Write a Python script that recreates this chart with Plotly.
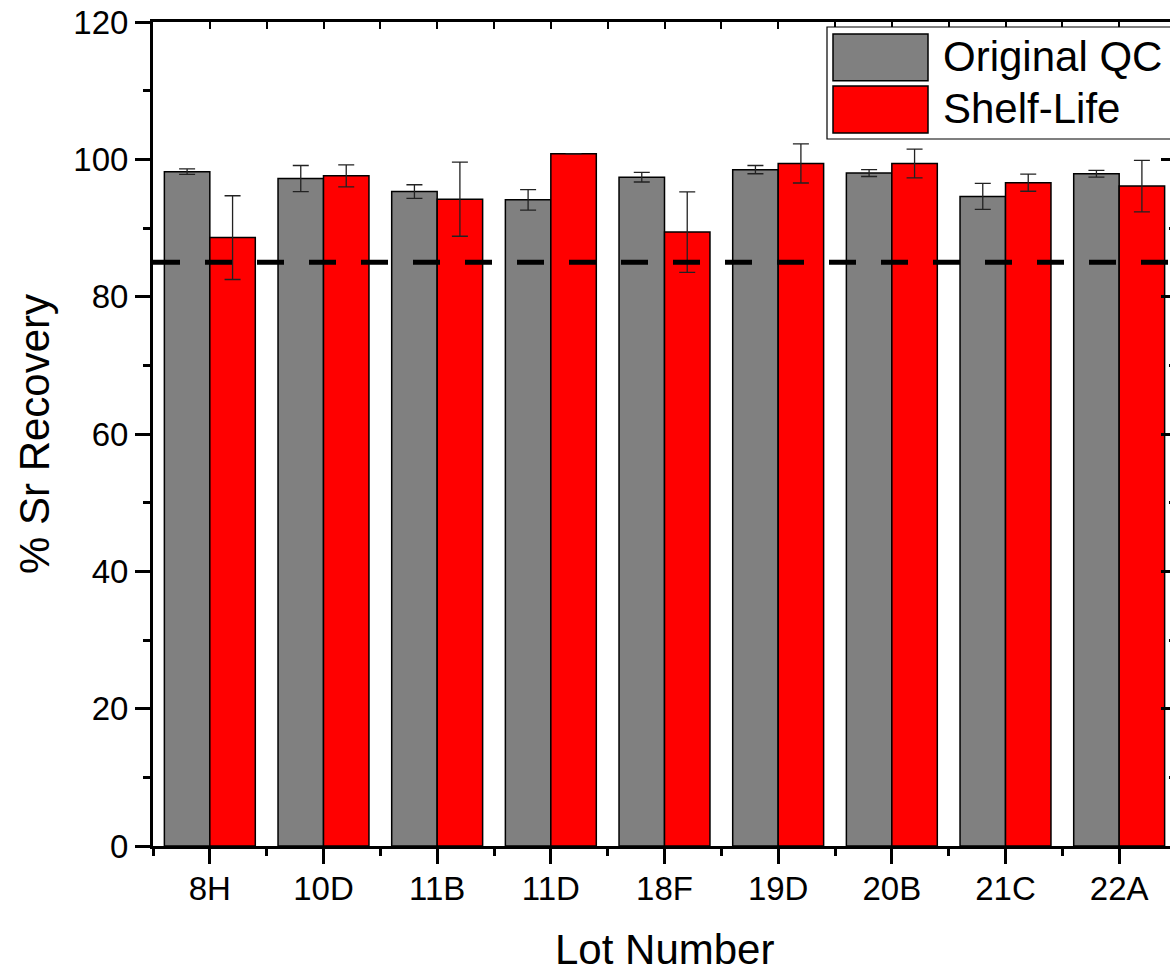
import plotly.graph_objects as go

# ---------------- data ----------------
lots = ["8H", "10D", "11B", "11D", "18F", "19D", "20B", "21C", "22A"]
original_qc = [98.2, 97.2, 95.3, 94.1, 97.4, 98.5, 98.0, 94.6, 97.9]
original_qc_err = [0.4, 1.9, 1.0, 1.5, 0.7, 0.6, 0.5, 1.9, 0.5]
shelf_life = [88.6, 97.6, 94.2, 100.8, 89.4, 99.4, 99.4, 96.6, 96.1]
shelf_life_err = [6.1, 1.6, 5.4, 0.0, 5.85, 2.85, 2.1, 1.25, 3.75]
threshold = 85
series_names = ["Original QC", "Shelf-Life"]
series_colors = ["#808080", "#FF0000"]
y_ticks = [0, 20, 40, 60, 80, 100, 120]

# ---------------- layout geometry (pixels) ----------------
W, H = 1180, 972
L, R, T, B = 153, 1176, 22, 846          # plot area edges
FONT = "Liberation Sans"

def px(xp):
    return (xp - L) / (R - L)

def py(yp):
    return (B - yp) / (B - T)

xpos = list(range(len(lots)))

fig = go.Figure()
fig.add_trace(go.Bar(
    x=xpos, y=original_qc, name=series_names[0],
    marker=dict(color=series_colors[0], line=dict(color="black", width=1.5)),
    error_y=dict(type="data", array=original_qc_err, color="#222222", thickness=1.3, width=8),
    showlegend=False,
))
fig.add_trace(go.Bar(
    x=xpos, y=shelf_life, name=series_names[1],
    marker=dict(color=series_colors[1], line=dict(color="black", width=1.5)),
    error_y=dict(type="data", array=shelf_life_err, color="#222222", thickness=1.3, width=8),
    showlegend=False,
))
# helper trace for mirrored (top/right) axes
fig.add_trace(go.Scatter(x=[], y=[], xaxis="x2", yaxis="y2", showlegend=False, hoverinfo="skip"))

# threshold dashed line
fig.add_shape(type="line", xref="paper", yref="y", x0=0, x1=1, y0=threshold, y1=threshold,
              line=dict(color="black", width=5, dash="27px,25px"), layer="above")

# manual legend
fig.add_shape(type="rect", xref="paper", yref="paper",
              x0=px(827), x1=px(1185), y0=py(139), y1=py(27),
              line=dict(color="black", width=1.2), fillcolor="white", layer="above")
sw_rows = [(34, 80.7), (86, 133)]
for (top, bot), name, col in zip(sw_rows, series_names, series_colors):
    fig.add_shape(type="rect", xref="paper", yref="paper",
                  x0=px(833), x1=px(928), y0=py(bot), y1=py(top),
                  line=dict(color="black", width=1.5), fillcolor=col, layer="above")
    fig.add_annotation(xref="paper", yref="paper", x=px(941), y=py((top + bot) / 2 - 1),
                       text=name, showarrow=False, xanchor="left", yanchor="middle",
                       font=dict(family=FONT, size=42, color="black"))

# axis titles
fig.add_annotation(xref="paper", yref="paper", x=px((L + R) / 2), y=py(949),
                   text="Lot Number", showarrow=False, xanchor="center", yanchor="middle",
                   font=dict(family=FONT, size=42, color="black"))
fig.add_annotation(xref="paper", yref="paper", x=px(34), y=py(434),
                   text="% Sr Recovery", showarrow=False, textangle=-90,
                   xanchor="center", yanchor="middle",
                   font=dict(family=FONT, size=42, color="black"))

fig.update_layout(
    width=W, height=H,
    margin=dict(l=L, r=W - R, t=T, b=H - B, pad=0),
    paper_bgcolor="white", plot_bgcolor="white",
    barmode="group", bargap=0.2, bargroupgap=0,
    font=dict(family=FONT, size=33, color="black"),
    xaxis=dict(
        range=[-0.5, len(lots) - 0.5], tickmode="array", tickvals=xpos, ticktext=lots,
        ticks="outside", ticklen=15, tickwidth=3, tickcolor="black",
        ticklabelstandoff=-4,
        showline=True, linewidth=3, linecolor="black", showgrid=False, zeroline=False,
        minor=dict(tickmode="array", tickvals=[i - 0.5 for i in range(len(lots) + 1)],
                   ticks="outside", ticklen=7, tickwidth=3, tickcolor="black", showgrid=False),
        tickfont=dict(family=FONT, size=33, color="black"),
    ),
    yaxis=dict(
        range=[0, 120], tickmode="array", tickvals=y_ticks,
        ticks="outside", ticklen=15, tickwidth=3, tickcolor="black",
        showline=True, linewidth=3, linecolor="black", showgrid=False, zeroline=False,
        minor=dict(dtick=10, ticks="outside", ticklen=7, tickwidth=3, tickcolor="black", showgrid=False),
        tickfont=dict(family=FONT, size=33, color="black"),
    ),
    xaxis2=dict(
        overlaying="x", side="top", range=[-0.5, len(lots) - 0.5],
        tickmode="array", tickvals=[i * 0.5 - 0.5 for i in range(2 * len(lots) + 1)],
        ticks="inside", ticklen=7, tickwidth=2, tickcolor="black",
        showticklabels=False, showline=True, linewidth=3, linecolor="black",
        showgrid=False, zeroline=False,
    ),
    yaxis2=dict(
        overlaying="y", side="right", range=[0, 120],
        tickmode="array", tickvals=y_ticks,
        ticks="inside", ticklen=15, tickwidth=3, tickcolor="black",
        minor=dict(dtick=10, ticks="inside", ticklen=7, tickwidth=3, tickcolor="black", showgrid=False),
        showticklabels=False, showline=True, linewidth=3, linecolor="black",
        showgrid=False, zeroline=False,
    ),
)

fig.write_html("out.html", config={"displayModeBar": False},
               post_script="document.documentElement.style.overflow='hidden';document.body.style.overflow='hidden';")
